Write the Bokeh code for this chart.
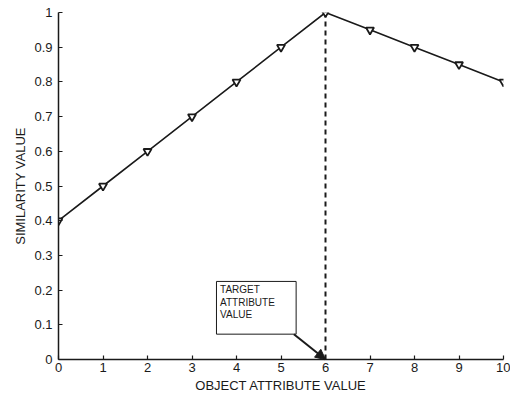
from bokeh.plotting import figure
from bokeh.models import Range1d, FixedTicker, Arrow, NormalHead, Label
from bokeh.embed import file_html
from bokeh.resources import INLINE

x_vals = [0, 1, 2, 3, 4, 5, 6, 7, 8, 9, 10]
similarity = [0.4, 0.5, 0.6, 0.7, 0.8, 0.9, 1.0, 0.95, 0.9, 0.85, 0.8]
target_x = 6
y_ticks = [0, 0.1, 0.2, 0.3, 0.4, 0.5, 0.6, 0.7, 0.8, 0.9, 1.0]
y_tick_labels = ["0", "0.1", "0.2", "0.3", "0.4", "0.5", "0.6", "0.7", "0.8", "0.9", "1"]
x_ticks = [0, 1, 2, 3, 4, 5, 6, 7, 8, 9, 10]
box_text = "TARGET\nATTRIBUTE\nVALUE"
box_left, box_right, box_bottom, box_top = 3.55, 5.34, 0.073, 0.225

FONT = "Liberation Sans"
INK = "#1a1a1a"

p = figure(width=510, height=395, output_backend="svg", toolbar_location=None,
           x_range=Range1d(0, 10), y_range=Range1d(0, 1),
           min_border_left=58, min_border_right=7, min_border_top=12, min_border_bottom=35)
p.outline_line_color = None
p.grid.visible = False
p.background_fill_color = "white"

for ax in (p.xaxis[0], p.yaxis[0]):
    ax.major_tick_in = 4
    ax.major_tick_out = 0
    ax.minor_tick_line_color = None
    ax.axis_line_color = INK
    ax.axis_line_width = 1.5
    ax.major_tick_line_color = INK
    ax.major_tick_line_width = 1.2
    ax.major_label_text_font = FONT
    ax.major_label_text_font_size = "13px"
    ax.major_label_text_color = INK
    ax.axis_label_text_font = FONT
    ax.axis_label_text_font_size = "13px"
    ax.axis_label_text_font_style = "normal"
    ax.axis_label_text_color = INK

p.xaxis.ticker = FixedTicker(ticks=x_ticks)
p.yaxis.ticker = FixedTicker(ticks=y_ticks)
p.yaxis.major_label_overrides = {t: l for t, l in zip(y_ticks, y_tick_labels)}
p.xaxis.axis_label = "OBJECT ATTRIBUTE VALUE"
p.yaxis.axis_label = "SIMILARITY VALUE"
p.xaxis.major_label_standoff = 3
p.xaxis.axis_label_standoff = 3
p.yaxis.major_label_standoff = 6
p.yaxis.axis_label_standoff = 3

# dashed target line
p.line([target_x, target_x], [0, 1], line_color=INK, line_width=2, line_dash="5 4")

# similarity line
p.line(x_vals, similarity, line_color=INK, line_width=1.6)
p.scatter(x_vals, similarity, marker="inverted_triangle", size=8,
          fill_color="white", line_color=INK, line_width=1.8)

# annotation box
p.quad(left=[box_left], right=[box_right], bottom=[box_bottom], top=[box_top],
       fill_color="white", line_color=INK, line_width=1)
p.add_layout(Label(x=box_left + 0.08, y=box_top - 0.008, text=box_text,
                   text_font=FONT, text_font_size="10px", text_color=INK,
                   text_baseline="top", text_align="left", text_line_height=1.15))
p.add_layout(Arrow(end=NormalHead(size=10, fill_color=INK, line_color=INK),
                   x_start=box_right - 0.05, y_start=box_bottom,
                   x_end=target_x, y_end=0, line_color=INK, line_width=2))

open("out.html", "w").write(file_html(p, INLINE))
